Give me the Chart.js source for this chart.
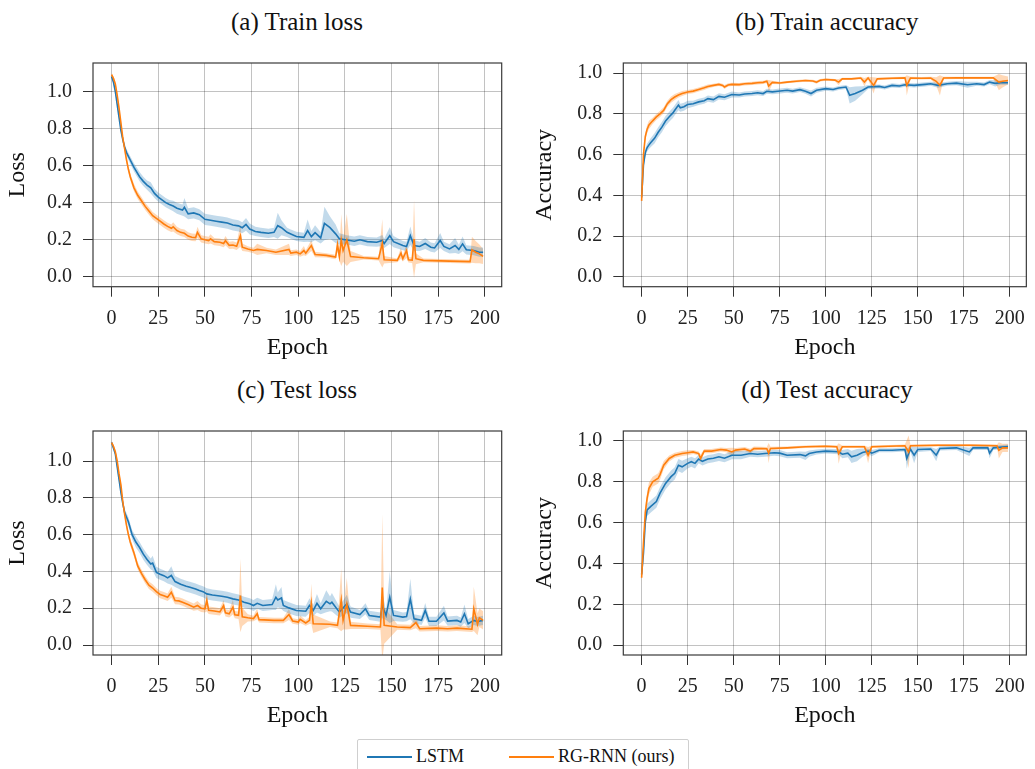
<!DOCTYPE html>
<html>
<head>
<meta charset="utf-8">
<script src="https://cdn.jsdelivr.net/npm/chart.js@4.4.1/dist/chart.umd.min.js"></script>
<style>
  body { margin: 0; background: #fff; width: 1035px; height: 769px; overflow: hidden; position: relative;
         font-family: "Liberation Serif", "Times New Roman", serif; color: #111; }
  .panel { position: absolute; }
  .title { position: absolute; width: 420px; text-align: center; font-size: 25px; line-height: 30px; }
  .legend { position: absolute; left: 357px; top: 739px; width: 332px; height: 36px;
            border: 1px solid #cfcfcf; border-radius: 2px; box-sizing: border-box; }
  .legend .swatch { position: absolute; top: 16px; width: 45px; height: 2px; }
  .legend .label { position: absolute; top: 5px; font-size: 18px; line-height: 22px; }
</style>
</head>
<body>

<div class="title" style="left:87px; top:7px;">(a) Train loss</div>
<div class="title" style="left:617px; top:7px;">(b) Train accuracy</div>
<div class="title" style="left:87px; top:375px;">(c) Test loss</div>
<div class="title" style="left:617px; top:375px;">(d) Test accuracy</div>

<canvas id="trainLoss" class="panel" width="517" height="330" style="left:0; top:40px;"></canvas>
<canvas id="trainAcc" class="panel" width="515" height="330" style="left:520px; top:40px;"></canvas>
<canvas id="testLoss" class="panel" width="517" height="330" style="left:0; top:408px;"></canvas>
<canvas id="testAcc" class="panel" width="515" height="330" style="left:520px; top:408px;"></canvas>

<div class="legend">
  <div class="swatch" style="left:9px; background:#1f77b4;"></div>
  <div class="label" style="left:58px;">LSTM</div>
  <div class="swatch" style="left:151px; background:#ff7f0e;"></div>
  <div class="label" style="left:200px;">RG-RNN (ours)</div>
</div>

<script>
// ---- tick labels ----
const epochTicks = [0, 25, 50, 75, 100, 125, 150, 175, 200];
const valueTicks = [0.0, 0.2, 0.4, 0.6, 0.8, 1.0];
const seriesNames = ['LSTM', 'RG-RNN (ours)'];

// ---- (a) train loss ----
const trainLossLstmEpoch = [0,1,2,3,4,5,6,7,8,10, 12,15,17,19,21,23,25,27,29,31,
  33,35,38,39,41,44,47,50,53,56, 59,62,65,68,70,72,74,77,80,84,
  87,89,91,94,96,99,103,105,107,109, 112,114,117,120,122,126,130,133,137,142,
  145,146,149,151,156,158,160,162,165,168, 171,173,176,178,181,184,186,188,190,194, 197,199];
const trainLossLstm = [1.08,1.05,1.00,0.93,0.86,0.79,0.74,0.70,0.67,0.63, 0.59,0.54,0.515,0.495,0.48,0.45,0.43,0.415,0.40,0.39,
  0.382,0.37,0.36,0.375,0.34,0.345,0.335,0.31,0.305,0.30, 0.295,0.29,0.28,0.275,0.265,0.283,0.258,0.245,0.24,0.235,
  0.24,0.276,0.265,0.24,0.231,0.218,0.213,0.249,0.217,0.238, 0.21,0.288,0.265,0.232,0.205,0.199,0.192,0.2,0.19,0.187,
  0.196,0.18,0.222,0.19,0.169,0.164,0.222,0.169,0.164,0.18, 0.16,0.156,0.196,0.164,0.151,0.169,0.148,0.178,0.146,0.142, 0.133,0.133];
const trainLossLstmStd = [0.01,0.01,0.01,0.01,0.01,0.012,0.015,0.015,0.018,0.02, 0.022,0.025,0.025,0.025,0.03,0.025,0.025,0.025,0.025,0.025,
  0.028,0.03,0.03,0.05,0.03,0.03,0.03,0.03,0.03,0.03, 0.03,0.03,0.03,0.03,0.03,0.035,0.03,0.025,0.025,0.025,
  0.025,0.07,0.04,0.025,0.025,0.025,0.025,0.06,0.03,0.04, 0.03,0.09,0.06,0.05,0.03,0.025,0.025,0.025,0.025,0.025,
  0.03,0.025,0.045,0.03,0.025,0.025,0.05,0.03,0.025,0.03, 0.025,0.025,0.04,0.025,0.025,0.04,0.025,0.04,0.025,0.025, 0.025,0.025];

const trainLossRgEpoch = [0,1,2,3,4,5,6,7,8,9, 10,12,14,16,18,20,22,24,26,28,
  30,32,33,35,37,39,41,43,45,46, 48,50,52,53,55,58,60,61,63,65,
  67,69,70,73,76,78,83,88,95,96, 99,101,103,104,107,109,115,120,121,122,
  123,124,126,128,135,143,145,146,153,155, 156,158,159,161,162,163,167,181,192,193, 195,197,199];
const trainLossRg = [1.09,1.07,1.04,0.98,0.91,0.83,0.75,0.69,0.63,0.58, 0.54,0.48,0.44,0.41,0.38,0.355,0.33,0.315,0.30,0.285,
  0.272,0.262,0.27,0.25,0.24,0.235,0.22,0.214,0.212,0.24, 0.205,0.2,0.196,0.205,0.19,0.187,0.18,0.195,0.17,0.172,
  0.165,0.222,0.16,0.15,0.142,0.148,0.142,0.133,0.148,0.128, 0.133,0.124,0.142,0.128,0.169,0.121,0.116,0.107,0.174,0.11,
  0.199,0.142,0.199,0.11,0.103,0.098,0.181,0.092,0.089,0.128, 0.098,0.142,0.092,0.09,0.204,0.098,0.089,0.085,0.082,0.146, 0.133,0.124,0.11];
const trainLossRgStd = [0.012,0.012,0.012,0.015,0.015,0.015,0.015,0.015,0.015,0.018, 0.018,0.02,0.02,0.02,0.02,0.02,0.02,0.02,0.02,0.02,
  0.02,0.02,0.025,0.02,0.02,0.02,0.02,0.02,0.02,0.03, 0.02,0.02,0.02,0.025,0.02,0.02,0.02,0.025,0.02,0.02,
  0.02,0.06,0.02,0.015,0.015,0.03,0.015,0.015,0.03,0.015, 0.015,0.015,0.025,0.015,0.03,0.015,0.012,0.012,0.04,0.02,
  0.14,0.06,0.14,0.03,0.01,0.01,0.13,0.02,0.01,0.03, 0.015,0.04,0.015,0.015,0.21,0.03,0.01,0.01,0.01,0.07, 0.06,0.05,0.04];

// ---- (b) train accuracy ----
const trainAccLstmEpoch = [0,1,2,3,4,5,7,9,11,13, 15,17,18,20,21,23,25,28,31,34,
  36,39,42,45,49,53,56,60,63,66, 68,71,74,79,82,86,89,92,95,100,
  104,107,111,113,116,120,123,129,132,136, 140,143,148,154,157,161,166,171,177,182, 186,189,192,195,199];
const trainAccLstm = [0.39,0.55,0.61,0.635,0.648,0.66,0.68,0.71,0.735,0.765, 0.786,0.805,0.818,0.843,0.83,0.835,0.846,0.85,0.859,0.865,
  0.875,0.87,0.886,0.882,0.895,0.893,0.898,0.9,0.904,0.9, 0.911,0.908,0.911,0.916,0.912,0.919,0.911,0.9,0.916,0.924,
  0.92,0.927,0.932,0.891,0.9,0.916,0.932,0.935,0.93,0.94, 0.937,0.943,0.94,0.945,0.948,0.94,0.948,0.951,0.943,0.948, 0.944,0.956,0.95,0.953,0.953];
const trainAccLstmStd = [0.02,0.02,0.02,0.02,0.02,0.022,0.025,0.025,0.025,0.025, 0.025,0.025,0.025,0.025,0.02,0.02,0.018,0.015,0.015,0.015,
  0.015,0.015,0.015,0.015,0.015,0.012,0.012,0.012,0.012,0.012, 0.012,0.012,0.012,0.012,0.012,0.012,0.012,0.015,0.012,0.01,
  0.01,0.01,0.01,0.04,0.035,0.02,0.01,0.01,0.01,0.01, 0.01,0.01,0.01,0.01,0.01,0.012,0.01,0.01,0.015,0.01, 0.01,0.01,0.015,0.01,0.01];

const trainAccRgEpoch = [0,1,2,3,4,6,8,10,12,14, 16,18,20,22,25,28,31,34,36,39,
  42,44,45,47,49,53,56,60,63,66, 68,69,71,75,79,84,89,93,95,97,
  100,105,107,109,114,119,121,123,126,128, 136,143,144,146,152,157,160,162,164,171, 179,191,194,196,199];
const trainAccRg = [0.373,0.6,0.689,0.725,0.746,0.766,0.785,0.8,0.818,0.85, 0.87,0.883,0.893,0.9,0.908,0.912,0.92,0.928,0.935,0.94,
  0.945,0.94,0.932,0.942,0.945,0.944,0.948,0.95,0.953,0.955, 0.96,0.937,0.955,0.952,0.956,0.96,0.964,0.962,0.956,0.965,
  0.969,0.966,0.956,0.972,0.972,0.976,0.956,0.976,0.94,0.972, 0.975,0.977,0.94,0.976,0.975,0.976,0.96,0.94,0.976,0.977, 0.977,0.977,0.956,0.96,0.964];
const trainAccRgStd = [0.04,0.02,0.02,0.02,0.02,0.015,0.015,0.015,0.015,0.015, 0.015,0.015,0.012,0.012,0.01,0.01,0.01,0.01,0.01,0.008,
  0.008,0.008,0.01,0.008,0.008,0.008,0.008,0.008,0.008,0.008, 0.008,0.03,0.008,0.006,0.006,0.006,0.006,0.006,0.008,0.006,
  0.006,0.006,0.015,0.006,0.006,0.006,0.02,0.006,0.04,0.006, 0.006,0.006,0.05,0.006,0.006,0.006,0.02,0.05,0.006,0.006, 0.006,0.006,0.04,0.03,0.02];

// ---- (c) test loss ----
const testLossLstmEpoch = [0,1,2,3,4,5,6,7,9,11, 13,15,17,19,21,22,24,26,28,30,
  32,34,37,40,42,45,47,49,51,54, 56,59,62,65,68,71,74,76,78,81,
  86,88,89,91,92,95,99,104,106,108, 110,112,115,117,118,122,126,128,133,136,
  138,144,145,147,149,151,156,158,160,162, 166,168,170,174,178,180,185,187,189,191, 194,196,199];
const testLossLstm = [1.1,1.07,1.04,0.97,0.9,0.83,0.77,0.72,0.67,0.6, 0.56,0.53,0.494,0.465,0.44,0.445,0.395,0.385,0.377,0.365,
  0.378,0.345,0.33,0.32,0.314,0.305,0.296,0.29,0.278,0.272, 0.269,0.265,0.26,0.251,0.245,0.233,0.224,0.215,0.227,0.215,
  0.22,0.26,0.245,0.256,0.215,0.202,0.188,0.184,0.215,0.188, 0.227,0.197,0.238,0.224,0.233,0.179,0.224,0.179,0.166,0.197,
  0.161,0.152,0.215,0.161,0.26,0.161,0.152,0.155,0.25,0.143, 0.134,0.188,0.129,0.129,0.174,0.13,0.134,0.125,0.17,0.116, 0.134,0.128,0.134];
const testLossLstmStd = [0.012,0.012,0.012,0.015,0.015,0.015,0.02,0.02,0.025,0.025, 0.03,0.03,0.03,0.03,0.03,0.04,0.03,0.03,0.03,0.03,
  0.05,0.03,0.03,0.03,0.03,0.03,0.03,0.03,0.03,0.03, 0.03,0.03,0.03,0.03,0.03,0.03,0.03,0.03,0.03,0.03,
  0.03,0.07,0.04,0.06,0.03,0.03,0.03,0.03,0.04,0.03, 0.05,0.03,0.06,0.04,0.05,0.03,0.05,0.03,0.025,0.03,
  0.025,0.025,0.07,0.025,0.14,0.03,0.025,0.025,0.11,0.025, 0.025,0.04,0.025,0.025,0.04,0.025,0.025,0.025,0.05,0.025, 0.025,0.025,0.025];

const testLossRgEpoch = [0,1,2,3,4,5,6,7,8,9, 10,12,14,16,18,20,22,24,26,28,
  30,32,34,36,38,41,44,46,48,50, 51,52,55,58,60,61,63,65,66,68,
  69,70,73,76,78,79,87,92,95,97, 100,101,104,106,107,108,117,121,123,124,
  126,128,137,144,145,146,153,160,163,165, 174,180,185,193,194,196,197,199];
const testLossRg = [1.1,1.08,1.05,1.0,0.93,0.87,0.78,0.71,0.65,0.6, 0.56,0.5,0.43,0.39,0.355,0.325,0.31,0.29,0.275,0.268,
  0.26,0.287,0.242,0.24,0.233,0.22,0.206,0.215,0.2,0.197, 0.242,0.189,0.185,0.18,0.215,0.175,0.17,0.206,0.165,0.162,
  0.269,0.153,0.148,0.144,0.17,0.138,0.134,0.134,0.166,0.131, 0.125,0.14,0.12,0.134,0.224,0.116,0.113,0.107,0.245,0.134,
  0.224,0.107,0.102,0.098,0.313,0.107,0.098,0.095,0.122,0.089, 0.092,0.089,0.092,0.086,0.197,0.113,0.148,0.134];
const testLossRgStd = [0.012,0.012,0.012,0.015,0.015,0.015,0.015,0.015,0.018,0.018, 0.02,0.02,0.02,0.02,0.02,0.02,0.02,0.02,0.02,0.02,
  0.02,0.03,0.02,0.02,0.02,0.02,0.02,0.025,0.02,0.02, 0.06,0.02,0.02,0.02,0.03,0.02,0.02,0.04,0.02,0.02,
  0.2,0.05,0.02,0.015,0.03,0.015,0.015,0.015,0.03,0.015, 0.015,0.02,0.015,0.02,0.11,0.05,0.015,0.015,0.17,0.05,
  0.14,0.02,0.015,0.015,0.40,0.1,0.015,0.015,0.03,0.015, 0.015,0.015,0.015,0.015,0.12,0.06,0.05,0.05];

// ---- (d) test accuracy ----
const testAccLstmEpoch = [0,1,2,3,5,8,10,13,16,18, 20,22,25,27,29,31,33,36,39,42,
  45,49,54,59,63,67,72,75,79,86, 89,91,95,100,107,109,112,114,117,120,
  123,125,129,136,143,144,146,148,150,157, 160,162,171,178,180,188,189,191,199];
const testAccLstm = [0.346,0.45,0.605,0.662,0.679,0.703,0.744,0.792,0.825,0.841, 0.881,0.873,0.89,0.898,0.89,0.911,0.9,0.911,0.915,0.922,
  0.915,0.93,0.93,0.938,0.935,0.938,0.942,0.94,0.93,0.933, 0.927,0.938,0.946,0.95,0.947,0.935,0.94,0.922,0.93,0.943,
  0.95,0.94,0.954,0.954,0.958,0.914,0.96,0.93,0.958,0.96, 0.93,0.963,0.966,0.946,0.966,0.966,0.94,0.966,0.972];
const testAccLstmStd = [0.02,0.03,0.03,0.03,0.03,0.03,0.03,0.03,0.03,0.03, 0.03,0.03,0.025,0.025,0.025,0.02,0.02,0.02,0.02,0.02,
  0.02,0.02,0.02,0.015,0.015,0.015,0.015,0.015,0.015,0.015, 0.02,0.015,0.012,0.012,0.012,0.02,0.02,0.03,0.03,0.02,
  0.012,0.015,0.01,0.01,0.01,0.05,0.012,0.04,0.012,0.01, 0.03,0.01,0.01,0.02,0.01,0.01,0.025,0.01,0.01];

const testAccRgEpoch = [0,1,2,3,4,6,9,10,12,15, 18,22,25,28,31,32,34,38,43,46,
  49,51,56,59,61,65,68,69,70,79, 89,100,106,107,109,121,123,125,143,145,
  146,161,179,193,194,196,199];
const testAccRg = [0.33,0.5,0.65,0.72,0.768,0.8,0.817,0.835,0.881,0.914, 0.93,0.938,0.942,0.946,0.938,0.914,0.95,0.95,0.958,0.955,
  0.946,0.955,0.96,0.95,0.962,0.963,0.962,0.94,0.963,0.966, 0.971,0.974,0.971,0.938,0.971,0.971,0.93,0.971,0.976,0.946,
  0.976,0.979,0.979,0.976,0.954,0.966,0.966];
const testAccRgStd = [0.04,0.03,0.03,0.03,0.03,0.025,0.025,0.025,0.02,0.015, 0.012,0.012,0.012,0.01,0.01,0.02,0.01,0.01,0.01,0.01,
  0.02,0.01,0.01,0.012,0.01,0.008,0.008,0.05,0.008,0.006, 0.006,0.006,0.006,0.05,0.006,0.006,0.04,0.006,0.006,0.08,
  0.006,0.006,0.006,0.006,0.04,0.02,0.02];

const blue = '#1f77b4';
const orange = '#ff7f0e';

// full box round the plot area, like the original axes frame
const framePlugin = {
  id: 'frame',
  afterDraw(chart) {
    const { ctx, chartArea: a } = chart;
    ctx.save();
    ctx.strokeStyle = '#3a3a3a';
    ctx.lineWidth = 1.2;
    ctx.strokeRect(a.left, a.top, a.right - a.left, a.bottom - a.top);
    ctx.restore();
  }
};

const toPoints = (epochs, vals, sd, sign) => epochs.map((e, i) => ({ x: e, y: vals[i] + sign * (sd ? sd[i] : 0) }));

function makeSeries(epochs, vals, sd, color, band, order) {
  return [
    { data: toPoints(epochs, vals, sd, -1), borderWidth: 0, borderColor: 'transparent', fill: false, order: 10 },
    { data: toPoints(epochs, vals, sd, 1), borderWidth: 0, borderColor: 'transparent', backgroundColor: band, fill: '-1', order: 10 },
    { label: null, data: toPoints(epochs, vals, null, 0), borderColor: color, borderWidth: 1.6, fill: false, order: order }
  ];
}

function makePanel(id, lstm, rg, yMin, yMax, yLabel, box) {
  const tickFont = { family: 'Liberation Serif', size: 20 };
  const labelFont = { family: 'Liberation Serif', size: 24 };
  const datasets = [
    ...makeSeries(lstm[0], lstm[1], lstm[2], blue, 'rgba(31,119,180,0.27)', 1),
    ...makeSeries(rg[0], rg[1], rg[2], orange, 'rgba(255,127,14,0.3)', 0)
  ];
  datasets[2].label = seriesNames[0];
  datasets[5].label = seriesNames[1];
  return new Chart(document.getElementById(id), {
    type: 'line',
    data: { datasets },
    options: {
      responsive: false,
      animation: false,
      layout: { padding: { top: box.top, right: box.right, left: 0, bottom: 0 } },
      elements: { point: { radius: 0 }, line: { tension: 0 } },
      plugins: { legend: { display: false }, tooltip: { enabled: false } },
      scales: {
        x: {
          type: 'linear', min: -9.95, max: 208.95,
          afterBuildTicks: s => { s.ticks = epochTicks.map(v => ({ value: v })); },
          afterFit: s => { s.height = box.xHeight; },
          grid: { color: 'rgba(0,0,0,0.24)', lineWidth: 1, tickColor: '#333', tickLength: 10 },
          border: { display: false },
          ticks: { font: tickFont, color: '#222', padding: 10, maxRotation: 0, callback: v => String(v) },
          title: { display: true, text: 'Epoch', font: labelFont, color: '#111', padding: { top: 0, bottom: 7.6 } }
        },
        y: {
          min: yMin, max: yMax,
          afterBuildTicks: s => { s.ticks = valueTicks.map(v => ({ value: v })); },
          afterFit: s => { s.width = box.yWidth; },
          grid: { color: 'rgba(0,0,0,0.24)', lineWidth: 1, tickColor: '#333', tickLength: 10 },
          border: { display: false },
          ticks: { font: tickFont, color: '#222', padding: 11, callback: v => Number(v).toFixed(1) },
          title: { display: true, text: yLabel, font: labelFont, color: '#111', padding: { top: box.titlePad, bottom: 0 } }
        }
      }
    },
    plugins: [framePlugin]
  });
}

makePanel('trainLoss', [trainLossLstmEpoch, trainLossLstm, trainLossLstmStd], [trainLossRgEpoch, trainLossRg, trainLossRgStd],
  -0.053, 1.153, 'Loss', { top: 20.7, right: 15.3, xHeight: 83.3, yWidth: 93, titlePad: 3.6 });
makePanel('trainAcc', [trainAccLstmEpoch, trainAccLstm, trainAccLstmStd], [trainAccRgEpoch, trainAccRg, trainAccRgStd],
  -0.0486, 1.050, 'Accuracy', { top: 20.7, right: 3.3, xHeight: 83.3, yWidth: 103.3, titlePad: 10.6 });
makePanel('testLoss', [testLossLstmEpoch, testLossLstm, testLossLstmStd], [testLossRgEpoch, testLossRg, testLossRgStd],
  -0.054, 1.163, 'Loss', { top: 21, right: 15.3, xHeight: 83, yWidth: 93, titlePad: 3.6 });
makePanel('testAcc', [testAccLstmEpoch, testAccLstm, testAccLstmStd], [testAccRgEpoch, testAccRg, testAccRgStd],
  -0.0485, 1.0485, 'Accuracy', { top: 21, right: 3.3, xHeight: 83, yWidth: 103.3, titlePad: 10.6 });
</script>
</body>
</html>
